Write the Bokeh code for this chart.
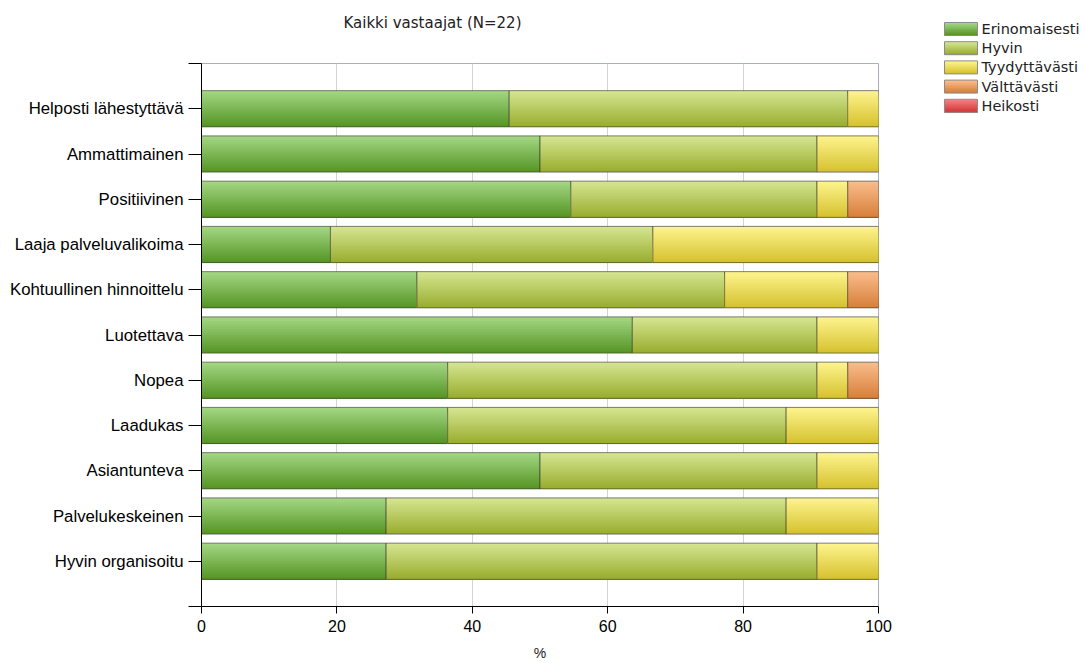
from bokeh.plotting import figure
from bokeh.models import Range1d, FixedTicker
from bokeh.core.properties import value
from bokeh.layouts import row, column
from bokeh.embed import file_html
from bokeh.resources import INLINE
import numpy as np

categories = ["Helposti lähestyttävä", "Ammattimainen", "Positiivinen", "Laaja palveluvalikoima",
              "Kohtuullinen hinnoittelu", "Luotettava", "Nopea", "Laadukas", "Asiantunteva",
              "Palvelukeskeinen", "Hyvin organisoitu"]
erinomaisesti = [45.45, 50.00, 54.55, 19.05, 31.82, 63.64, 36.36, 36.36, 50.00, 27.27, 27.27]
hyvin = [50.00, 40.91, 36.36, 47.62, 45.45, 27.27, 54.55, 50.00, 40.91, 59.09, 63.64]
tyydyttavasti = [4.55, 9.09, 4.55, 33.33, 18.18, 9.09, 4.55, 13.64, 9.09, 13.64, 9.09]
valttavasti = [0, 0, 4.55, 0, 4.55, 0, 4.55, 0, 0, 0, 0]
heikosti = [0, 0, 0, 0, 0, 0, 0, 0, 0, 0, 0]
series_names = ["Erinomaisesti", "Hyvin", "Tyydyttävästi", "Välttävästi", "Heikosti"]
x_ticks = [0, 20, 40, 60, 80, 100]
title_text = "Kaikki vastaajat (N=22)"
x_label = "%"

series = [erinomaisesti, hyvin, tyydyttavasti, valttavasti, heikosti]
top_colors = ["#a2d682", "#d4e490", "#fdf38c", "#f9bc8a", "#f47e7e"]
bot_colors = ["#579626", "#9aae30", "#d6c230", "#d8803c", "#d43838"]

n = len(categories)
ypos = np.arange(n, 0, -1).astype(float)  # top row at 11


def hex2rgb(h):
    return np.array([int(h[i:i + 2], 16) for i in (1, 3, 5)], dtype=float)


def rgb2hex(c):
    return "#%02x%02x%02x" % tuple(int(round(v)) for v in c)


def gradient_quads(fig, left, right, top, bottom, si, nb=18):
    t, b = hex2rgb(top_colors[si]), hex2rgb(bot_colors[si])
    left, right = np.asarray(left, float), np.asarray(right, float)
    top, bottom = np.asarray(top, float), np.asarray(bottom, float)
    h = top - bottom
    for k in range(nb):
        frac = k / (nb - 1)
        col = rgb2hex(t + (b - t) * frac)
        fig.quad(left=left, right=right, top=top - h * k / nb, bottom=bottom,
                 fill_color=col, line_color=None)


def blank_fig(w, h, xr, yr):
    f = figure(width=w, height=h, output_backend="svg", toolbar_location=None,
               x_range=xr, y_range=yr, x_axis_location=None, y_axis_location=None,
               title=None, min_border_left=0, min_border_right=0, min_border_top=0,
               min_border_bottom=0)
    f.grid.visible = False
    f.outline_line_color = None
    f.background_fill_color = "white"
    f.border_fill_color = "white"
    return f


MAIN_W = 940
TOP_H = 62

# title strip (page pixel coordinates, y downwards)
pt = blank_fig(MAIN_W, TOP_H, Range1d(0, MAIN_W), Range1d(TOP_H, 0))
pt.text(x=[343], y=[22], text=[title_text], text_font=value("DejaVu Sans"),
        text_font_size="15px", text_color="#222222", text_align="left",
        text_baseline="middle")

p = figure(width=MAIN_W, height=663 - TOP_H, output_backend="svg", toolbar_location=None,
           x_range=Range1d(0, 100), y_range=Range1d(0, n + 1), title=None,
           min_border_left=201, min_border_right=MAIN_W - 878, min_border_top=1,
           min_border_bottom=56)
p.background_fill_color = "white"
p.border_fill_color = "white"
p.outline_line_color = "#a8b0b8"
p.outline_line_width = 1

p.xgrid.ticker = FixedTicker(ticks=x_ticks)
p.xgrid.grid_line_color = "#d4d4d4"
p.ygrid.grid_line_color = None

bar_h = 0.8
lefts = np.zeros(n)
for si, vals in enumerate(series):
    vals = np.array(vals, dtype=float)
    rights = lefts + vals
    mask = vals > 0
    if mask.any():
        gradient_quads(p, lefts[mask], rights[mask], ypos[mask] + bar_h / 2,
                       ypos[mask] - bar_h / 2, si)
        p.hbar(y=ypos[mask], left=lefts[mask], right=rights[mask], height=bar_h,
               fill_alpha=0, line_color="#3c3c30", line_alpha=0.65, line_width=1)
    lefts = rights

# axes
p.xaxis.ticker = FixedTicker(ticks=x_ticks)
p.xaxis.axis_line_color = "black"
p.xaxis.major_tick_line_color = "black"
p.xaxis.major_tick_out = 7
p.xaxis.major_tick_in = 0
p.xaxis.minor_tick_line_color = None
p.xaxis.major_label_text_font = "Liberation Sans"
p.xaxis.major_label_text_font_size = "16px"
p.xaxis.major_label_text_color = "black"
p.xaxis.major_label_standoff = 6
p.xaxis.axis_label = x_label
p.xaxis.axis_label_text_font = "Liberation Sans"
p.xaxis.axis_label_text_font_size = "14px"
p.xaxis.axis_label_text_font_style = "normal"
p.xaxis.axis_label_text_color = "#222222"
p.xaxis.axis_label_standoff = 10

p.yaxis.ticker = FixedTicker(ticks=list(range(0, n + 2)))
overrides = {0: "", n + 1: ""}
for i, c in enumerate(categories):
    overrides[int(ypos[i])] = c
p.yaxis.major_label_overrides = overrides
p.yaxis.axis_line_color = "black"
p.yaxis.major_tick_line_color = "black"
p.yaxis.major_tick_out = 13
p.yaxis.major_tick_in = 0
p.yaxis.minor_tick_line_color = None
p.yaxis.major_label_text_font = "Liberation Sans"
p.yaxis.major_label_text_font_size = "16.8px"
p.yaxis.major_label_text_color = "black"
p.yaxis.major_label_standoff = 5

# legend figure (page pixel coordinates, y downwards)
LEG_W = 1085 - MAIN_W
pl = blank_fig(LEG_W, 663, Range1d(MAIN_W, 1085), Range1d(663, 0))

sw_left, sw_right, sw_top, sw_h, row_h = 944, 977, 22, 13, 19.2
for si, name in enumerate(series_names):
    top = sw_top + si * row_h
    gradient_quads(pl, [sw_left], [sw_right], [top], [top + sw_h], si, nb=8)
    pl.quad(left=[sw_left], right=[sw_right], top=[top], bottom=[top + sw_h],
            fill_alpha=0, line_color="#8c8c8c", line_width=1)
pl.text(x=[sw_right + 4] * len(series_names),
        y=[sw_top + sw_h / 2 + i * row_h for i in range(len(series_names))],
        text=series_names, text_font=value("DejaVu Sans"), text_font_size="14.5px",
        text_color="#222222", text_align="left", text_baseline="middle")

layout = row(column(row(pt), p, spacing=0), column(pl), spacing=0)
open("out.html", "w").write(file_html(layout, INLINE))
